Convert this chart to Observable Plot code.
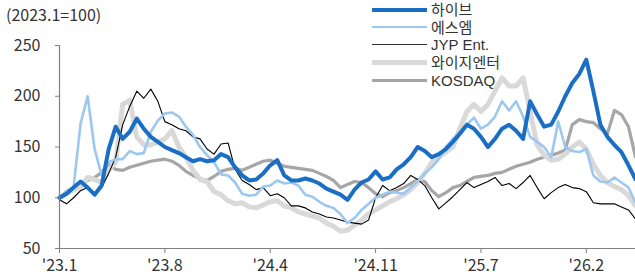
<!DOCTYPE html>
<html><head><meta charset="utf-8">
<script src="https://cdn.jsdelivr.net/npm/d3@7"></script>
<script src="https://cdn.jsdelivr.net/npm/@observablehq/plot@0.6"></script>
<style>
body{margin:0;background:#fff;}
#wrap{position:relative;width:635px;height:279px;font-family:'Noto Sans CJK KR','Noto Sans',sans-serif;color:#333;}
#title{position:absolute;left:6px;top:4px;font-size:16px;line-height:20px;}
#legend{position:absolute;left:372px;top:0;font-size:15px;font-family:'Liberation Sans','Noto Sans CJK KR',sans-serif;}
.row{position:absolute;left:0;height:0;width:260px;}
.row .sw{position:absolute;left:0;width:55px;}
.row .lb{position:absolute;left:59px;line-height:16px;top:-8px;white-space:nowrap;}
#chart{position:absolute;left:0;top:0;}
</style>
</head><body>
<div id="wrap"><div id="chart"></div><div id="title">(2023.1=100)</div><div id="legend"></div></div>
<script>
const seriesNames = ["하이브", "에스엠", "JYP Ent.", "와이지엔터", "KOSDAQ"];
const seriesColors = ["#1a6fc4", "#9cc8f0", "#000000", "#d9d9d9", "#a6a6a6"];
const seriesWidths = [4, 2.6, 1.1, 5, 3.2];
const tickIndex = [0, 15, 30, 45, 60, 75];
const tickLabels = ["'23.1", "'23.8", "'24.4", "'24.11", "'25.7", "'26.2"];
const yTicks = [50, 100, 150, 200, 250];

const hybe = [100,104,110,116,110,103,112,148,170,158, 165,178,168,160,155,150,147,144,140,136,
 138,136,137,143,140,130,122,117,118,124, 132,137,122,117,117,119,117,114,109,106,
 103,98,108,115,118,126,118,120,128,133, 140,150,146,140,143,148,155,163,172,168,
 160,150,158,168,172,166,158,195,182,170, 172,185,200,213,222,236,205,172,160,152,
 145,132,118];
const sm = [100,107,110,173,200,148,122,135,138,138, 146,143,144,165,176,183,184,180,170,162,
 150,142,135,123,122,115,104,102,103,111, 112,117,114,115,112,103,101,96,92,90,
 84,75,80,88,94,100,103,106,105,104, 110,116,124,130,138,150,158,165,172,179,
 168,172,180,195,186,195,180,160,155,150, 140,175,150,146,145,148,122,116,115,120,
 115,110,95];
const jyp = [98,94,100,107,110,104,110,124,140,172, 190,205,198,207,195,175,172,168,166,160,
 158,148,143,153,154,128,117,113,108,110, 102,104,100,92,92,90,86,84,81,80,
 78,76,75,74,78,100,112,107,110,114, 122,118,112,100,89,95,101,108,115,110,
 113,116,120,112,114,109,115,122,110,99, 105,110,113,110,109,106,95,94,94,94,
 91,88,79];
const yg = [100,104,108,110,120,118,115,127,135,192, 196,160,152,152,155,158,166,150,140,127,
 118,116,106,103,97,94,95,91,90,93, 96,97,92,90,86,84,82,80,75,72,
 67,68,73,78,84,88,92,96,99,103, 108,115,124,135,140,145,150,168,185,192,
 185,192,205,218,210,210,218,185,152,142, 137,138,143,150,155,148,133,122,115,111,
 108,102,92];
const kosdaq = [100,104,108,112,117,120,125,133,128,127, 130,132,134,136,137,138,136,132,126,122,
 119,117,121,126,128,129,127,130,133,136, 137,134,131,130,129,128,127,124,121,117,
 110,113,116,115,110,104,101,105,107,110, 114,118,116,107,101,105,110,112,116,120,
 121,122,124,125,128,131,133,135,138,140, 142,144,147,172,177,175,174,168,163,186,
 182,170,140];

const allSeries = [hybe, sm, jyp, yg, kosdaq];
const font = "'Noto Sans CJK KR','Noto Sans',sans-serif";

// draw bottom-most first: KOSDAQ ... 하이브 on top
const lineMarks = [4,3,2,1,0].map(k => Plot.line(
  allSeries[k].map((v, i) => ({i, v})),
  {x: "i", y: "v", stroke: seriesColors[k], strokeWidth: seriesWidths[k], strokeLinejoin: "round", strokeLinecap: "round"}
));

const chart = Plot.plot({
  width: 635, height: 279,
  marginLeft: 59, marginRight: 0, marginTop: 45, marginBottom: 31,
  x: {domain: [0, 82]},
  y: {domain: [50, 250]},
  style: {fontFamily: font, fontSize: "16px", color: "#333", background: "#fff", overflow: "visible"},
  marks: [
    ...lineMarks,
    Plot.ruleX([0], {stroke: "#808080", strokeWidth: 1.2}),
    Plot.ruleY([50], {stroke: "#808080", strokeWidth: 1.2}),
    Plot.axisY({ticks: yTicks, tickSize: 4, tickPadding: 15, label: null, stroke: "#808080", fill: "#333", fontSize: 16}),
    Plot.axisX({ticks: tickIndex, tickFormat: d => tickLabels[tickIndex.indexOf(d)], tickSize: 5, tickPadding: 6, label: null, stroke: "#808080", fill: "#333", fontSize: 16})
  ]
});
document.getElementById("chart").appendChild(chart);

const legendTops = [10, 27.5, 45, 62.5, 81];
const leg = document.getElementById("legend");
seriesNames.forEach((n, k) => {
  const row = document.createElement("div");
  row.className = "row";
  row.style.top = legendTops[k] + "px";
  const sw = document.createElement("div");
  sw.className = "sw";
  sw.style.borderTop = seriesWidths[k] + "px solid " + (k === 2 ? "#333" : seriesColors[k]);
  sw.style.top = (-seriesWidths[k] / 2) + "px";
  const lb = document.createElement("div");
  lb.className = "lb";
  lb.textContent = n;
  row.appendChild(sw); row.appendChild(lb);
  leg.appendChild(row);
});
</script>
</body></html>
